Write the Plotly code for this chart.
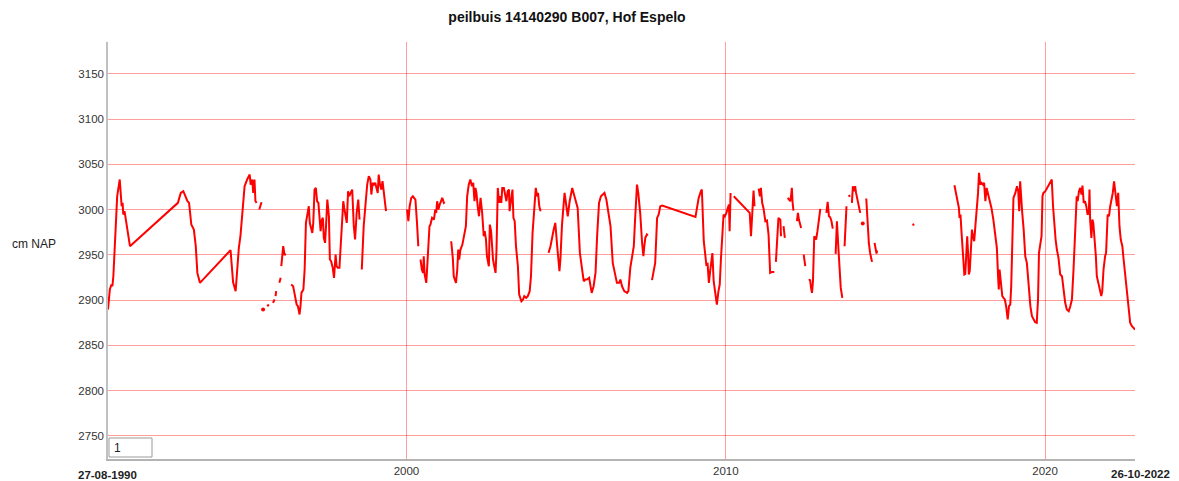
import plotly.graph_objects as go
import pandas as pd

# Decimal years (None = gap in the series) and groundwater level in cm NAP
jaar = [
    1990.65, 1990.71, 1990.76, 1990.79, 1990.82, 1990.89, 1990.94, 1991.02, 1991.08, 1991.11,
    1991.13, 1991.17, 1991.24, 1991.28, 1991.34, 1992.84, 1992.93, 1993.01, 1993.08, 1993.14,
    1993.19, 1993.22, 1993.26, 1993.34, 1993.40, 1993.45, 1993.53, 1994.49, 1994.54, 1994.57,
    1994.65, 1994.70, 1994.75, 1994.80, 1994.86, 1994.93, 1995.01, 1995.09, 1995.12, 1995.17,
    1995.20, 1995.24, 1995.27, 1995.31, None,
    1995.39, 1995.46, None,
    1995.64, 1995.69, None,
    1995.82, 1995.87, None,
    1995.90, 1995.92, None,
    1996.02, 1996.06, None,
    1996.08, 1996.14, 1996.18, 1996.23, None,
    1996.39, 1996.45, 1996.49, 1996.56, 1996.60, 1996.65, 1996.68, 1996.71, 1996.77, 1996.81,
    1996.85, 1996.89, 1996.94, 1996.97, 1997.02, 1997.05, 1997.08, 1997.12, 1997.16, 1997.20,
    1997.24, 1997.28, 1997.31, 1997.35, 1997.38, 1997.41, 1997.45, 1997.49, 1997.52, 1997.57,
    1997.60, 1997.64, 1997.69, 1997.73, 1997.76, 1997.78, 1997.81, 1997.85, 1997.90, 1997.96,
    1997.99, 1998.02, 1998.05, 1998.09, 1998.13, 1998.17, 1998.21, 1998.25, 1998.30, 1998.35,
    1998.39, 1998.44, 1998.49, 1998.53, None,
    1998.60, 1998.66, 1998.73, 1998.77, 1998.82, 1998.87, 1998.90, 1998.94, 1998.98, 1999.02,
    1999.10, 1999.13, 1999.17, 1999.21, 1999.25, 1999.29, 1999.36, None,
    2000.02, 2000.06, 2000.10, 2000.15, 2000.20, 2000.28, 2000.33, 2000.37, None,
    2000.44, 2000.48, 2000.52, 2000.54, 2000.57, 2000.62, 2000.65, 2000.68, 2000.72, 2000.75,
    2000.80, 2000.86, 2000.90, 2000.93, 2000.96, 2001.00, 2001.04, 2001.12, 2001.17, 2001.20, None,
    2001.40, 2001.45, 2001.48, 2001.55, 2001.59, 2001.62, 2001.65, 2001.69, 2001.75, 2001.80,
    2001.86, 2001.90, 2001.95, 2002.00, 2002.05, 2002.09, 2002.13, 2002.16, 2002.19, 2002.23,
    2002.27, 2002.32, 2002.37, 2002.42, 2002.45, 2002.49, 2002.52, 2002.58, 2002.61, 2002.65,
    2002.68, 2002.71, 2002.75, 2002.79, 2002.82, 2002.86, 2002.90, 2002.94, 2002.97, 2003.00,
    2003.05, 2003.09, 2003.13, 2003.17, 2003.21, 2003.23, 2003.28, 2003.32, 2003.35, 2003.39,
    2003.43, 2003.46, 2003.49, 2003.53, 2003.57, 2003.60, 2003.65, 2003.69, 2003.75, 2003.80,
    2003.86, 2003.90, 2003.95, 2004.01, 2004.05, 2004.09, 2004.12, 2004.16, 2004.20, None,
    2004.45, 2004.51, 2004.61, 2004.66, 2004.72, 2004.79, 2004.82, 2004.87, 2004.95, 2005.00,
    2005.05, 2005.11, 2005.19, 2005.26, 2005.32, 2005.36, 2005.43, 2005.50, 2005.55, 2005.60,
    2005.65, 2005.72, 2005.80, 2005.86, 2005.92, 2005.97, 2006.03, 2006.09, 2006.16, 2006.20,
    2006.26, 2006.31, 2006.39, 2006.46, 2006.53, 2006.59, 2006.66, 2006.70, 2006.75, 2006.82,
    2006.91, 2006.95, 2007.01, 2007.06, 2007.12, 2007.16, 2007.22, 2007.26, 2007.32, 2007.38,
    2007.42, 2007.45, 2007.48, 2007.53, 2007.56, None,
    2007.69, 2007.74, 2007.79, 2007.85, 2007.90, 2007.95, 2008.01, 2009.05, 2009.15, 2009.22,
    2009.25, 2009.31, 2009.35, 2009.39, 2009.43, 2009.47, 2009.51, 2009.56, 2009.58, 2009.62,
    2009.67, 2009.72, 2009.77, 2009.81, 2009.85, 2009.89, 2009.93, 2009.97, 2010.02, 2010.06,
    2010.10, 2010.12, 2010.15, None,
    2010.25, 2010.75, 2010.79, 2010.83, 2010.87, 2010.90, None,
    2011.03, 2011.07, 2011.10, 2011.14, 2011.18, 2011.24, 2011.29, 2011.34, 2011.39, 2011.45,
    2011.52, None,
    2011.57, 2011.62, 2011.65, 2011.71, 2011.73, None,
    2011.81, 2011.85, None,
    2011.94, 2011.98, 2012.02, 2012.05, 2012.07, 2012.09, 2012.12, None,
    2012.23, 2012.26, 2012.29, 2012.33, 2012.36, None,
    2012.44, 2012.49, None,
    2012.60, 2012.64, 2012.67, 2012.70, 2012.73, 2012.75, 2012.77, 2012.80, 2012.83, 2012.87,
    2012.92, 2012.96, None,
    2013.15, 2013.19, 2013.23, 2013.27, 2013.31, 2013.35, None,
    2013.44, 2013.48, 2013.52, 2013.56, 2013.60, 2013.65, None,
    2013.72, 2013.75, 2013.78, None,
    2013.84, 2013.90, None,
    2013.95, 2013.98, 2014.02, 2014.05, 2014.08, 2014.13, 2014.17, 2014.21, None,
    2014.40, 2014.44, 2014.48, 2014.52, 2014.58, None,
    2014.66, 2014.69, 2014.72, 2014.74, None,
    2015.86, 2015.89, None,
    2017.16, 2017.21, 2017.26, 2017.30, 2017.32, 2017.35, 2017.38, 2017.42, 2017.47, 2017.50,
    2017.53, 2017.56, 2017.59, 2017.61, 2017.64, 2017.67, 2017.71, 2017.74, 2017.78, 2017.82,
    2017.86, 2017.90, 2017.93, 2017.97, 2018.01, 2018.05, 2018.09, 2018.13, 2018.17, 2018.22,
    2018.26, 2018.32, 2018.38, 2018.44, 2018.49, 2018.53, 2018.55, 2018.575, 2018.63, 2018.66,
    2018.70, 2018.74, 2018.78, 2018.83, 2018.87, 2018.91, 2018.94, 2018.97, 2019.01, 2019.07,
    2019.12, 2019.16, 2019.19, 2019.22, 2019.25, 2019.285, 2019.33, 2019.38, 2019.43, 2019.48,
    2019.54, 2019.59, 2019.64, 2019.69, 2019.74, 2019.78, 2019.81, 2019.85, 2019.89, 2019.92,
    2019.95, 2020.01, 2020.06, 2020.11, 2020.16, 2020.21, 2020.25, 2020.29, 2020.33, 2020.37,
    2020.42, 2020.475, 2020.53, 2020.58, 2020.63, 2020.68, 2020.74, 2020.79, 2020.84, 2020.89,
    2020.94, 2020.99, 2021.02, 2021.06, 2021.10, 2021.14, 2021.17, 2021.21, 2021.25, 2021.29,
    2021.33, 2021.37, 2021.39, 2021.41, 2021.45, 2021.48, 2021.51, 2021.54, 2021.59, 2021.62,
    2021.67, 2021.73, 2021.76, 2021.79, 2021.83, 2021.88, 2021.91, 2021.96, 2022.00, 2022.04,
    2022.08, 2022.12, 2022.16, 2022.21, 2022.25, 2022.29, 2022.33, 2022.37, 2022.42, 2022.46,
    2022.51, 2022.56, 2022.61, 2022.665, 2022.72, 2022.77, 2022.82,
]

stand = [
    2889.5, 2911.6, 2917.1, 2915.3, 2926.3, 2970.5, 3014.8, 3033.2, 3003.7, 3007.4,
    2994.5, 2998.2, 2981.6, 2970.5, 2959.5, 3007.4, 3018.4, 3020.3, 3012.9, 3009.2,
    3007.4, 2992.6, 2983.4, 2977.9, 2959.5, 2930.0, 2919.0, 2955.1, 2937.4, 2919.7,
    2909.8, 2941.1, 2957.7, 2970.5, 3000.0, 3025.8, 3033.2, 3038.7, 3027.6, 3033.2,
    3018.4, 3033.2, 3009.2, 3007.4, None,
    3000.0, 3008.1, None,
    2893.2, 2895.0, None,
    2896.9, 2900.6, None,
    2904.3, 2909.8, None,
    2919.0, 2924.5, None,
    2937.4, 2959.5, 2950.3, 2950.3, None,
    2917.1, 2915.3, 2907.9, 2895.0, 2893.2, 2884.0, 2893.2, 2907.9, 2911.6, 2933.7,
    2985.3, 2994.5, 3003.7, 2985.3, 2977.9, 2974.2, 2985.3, 3022.1, 3023.9, 3009.2,
    3007.4, 2992.6, 2976.1, 2989.0, 2990.8, 2968.7, 2963.2, 2989.0, 3011.1, 2992.6,
    2944.8, 2942.9, 2935.6, 2924.5, 2937.4, 2950.3, 2937.4, 2935.6, 2935.6, 2974.2,
    2996.3, 3009.2, 3001.8, 2990.8, 2985.3, 3020.3, 3014.7, 3018.4, 3022.1, 2981.6,
    2966.9, 2996.3, 3011.1, 2989.0, None,
    2933.7, 2981.6, 3011.1, 3027.6, 3036.9, 3033.2, 3016.6, 3029.5, 3027.6, 3029.5,
    3018.4, 3038.7, 3027.6, 3022.1, 3031.3, 3018.4, 2998.2, None,
    3000.0, 2987.1, 3003.7, 3012.9, 3014.7, 3011.1, 2985.3, 2959.5, None,
    2944.8, 2933.7, 2930.0, 2948.4, 2928.2, 2919.0, 2937.4, 2955.8, 2981.6, 2983.4,
    2990.8, 2989.0, 3000.0, 2996.3, 3009.2, 3000.0, 3005.5, 3012.9, 3007.4, 3008.1, None,
    2965.0, 2946.6, 2926.3, 2919.0, 2933.7, 2955.8, 2944.8, 2955.8, 2961.3, 2970.5,
    2981.6, 3014.7, 3027.6, 3033.2, 3025.8, 3029.5, 3009.2, 3023.9, 3018.4, 3003.7,
    2992.6, 3012.9, 2996.3, 2970.5, 2976.1, 2966.9, 2948.4, 2937.4, 2983.4, 2976.1,
    2959.5, 2944.8, 2937.4, 2930.0, 2955.8, 3023.9, 3007.4, 3014.7, 3007.4, 3023.9,
    3023.9, 3014.7, 3009.2, 3020.3, 3022.1, 2998.2, 3011.1, 3022.1, 2990.8, 2987.1,
    2959.5, 2950.3, 2937.4, 2906.1, 2902.4, 2898.7, 2900.6, 2904.3, 2902.4, 2904.3,
    2909.8, 2926.3, 2974.2, 3011.1, 3023.9, 3014.7, 3018.4, 3003.7, 2998.2, None,
    2952.1, 2959.5, 2977.9, 2985.3, 2959.5, 2931.9, 2944.8, 2983.4, 3018.4, 3007.4,
    2992.6, 3009.2, 3023.9, 3014.7, 3007.4, 3001.8, 2952.1, 2930.0, 2920.8, 2922.7,
    2922.7, 2924.5, 2907.9, 2915.3, 2930.0, 2970.5, 3007.4, 3014.7, 3016.6, 3018.4,
    3011.1, 3000.0, 2981.6, 2941.1, 2930.0, 2919.0, 2919.0, 2922.7, 2915.3, 2909.8,
    2907.9, 2909.8, 2935.6, 2948.4, 2959.5, 2989.0, 3027.6, 3018.4, 2996.3, 2963.2,
    2948.4, 2959.5, 2968.7, 2972.4, 2971.3, None,
    2922.0, 2930.0, 2941.1, 2990.8, 2994.5, 3003.7, 3004.4, 2991.9, 3012.9, 3020.3,
    3022.1, 2965.0, 2953.9, 2939.2, 2940.0, 2919.0, 2931.9, 2950.3, 2951.8, 2920.8,
    2904.2, 2895.0, 2909.8, 2917.1, 2946.6, 2976.1, 2994.5, 2992.6, 2996.3, 3001.8,
    3005.5, 2976.1, 3018.4, None,
    3014.7, 2996.3, 2970.5, 2994.5, 3021.0, 3003.7, None,
    3023.2, 3014.7, 3024.0, 3007.4, 3001.8, 2987.1, 2987.9, 2972.4, 2930.0, 2931.1,
    2931.1, None,
    2942.2, 2979.7, 2990.8, 2988.9, 2970.5, None,
    2981.6, 2968.7, None,
    3012.9, 3011.0, 3009.2, 3016.6, 3024.0, 3009.2, 2998.9, None,
    2987.1, 2996.3, 2988.9, 2983.4, 2979.7, None,
    2950.3, 2937.4, None,
    2921.5, 2922.7, 2913.4, 2907.9, 2920.8, 2948.4, 2970.5, 2968.7, 2966.9, 2976.1,
    2990.8, 3000.7, None,
    2996.3, 3008.5, 2992.6, 2991.5, 2987.1, 2979.0, None,
    2951.0, 2987.1, 2961.3, 2931.9, 2913.4, 2902.4, None,
    2959.5, 2983.4, 3003.7, None,
    3014.7, 3015.5, None,
    3007.4, 3025.8, 3020.3, 3025.8, 3018.4, 3009.2, 3001.8, 2996.3, None,
    3012.2, 2977.9, 2963.2, 2952.1, 2942.2, None,
    2963.2, 2955.8, 2951.4, 2954.7, None,
    2984.5, 2982.2, None,
    3026.9, 3018.4, 3007.4, 3001.8, 2990.8, 2994.5, 2976.1, 2950.3, 2928.2, 2928.9,
    2954.0, 2970.5, 2950.3, 2928.2, 2931.9, 2950.3, 2977.9, 2970.5, 2965.0, 2983.4,
    2998.2, 3018.4, 3040.5, 3027.6, 3029.5, 3027.6, 3029.5, 3009.2, 3023.9, 3016.6,
    3012.9, 3001.8, 2988.9, 2974.2, 2957.6, 2924.5, 2911.6, 2933.7, 2908.0, 2904.3,
    2902.4, 2900.6, 2893.2, 2878.5, 2893.2, 2895.0, 2915.3, 2948.4, 3012.9, 3018.4,
    3025.8, 3020.3, 2998.2, 3031.3, 3011.1, 2996.3, 2977.9, 2948.4, 2941.1, 2915.3,
    2893.2, 2882.1, 2878.5, 2875.5, 2874.8, 2900.6, 2952.1, 2959.5, 2970.5, 3014.7,
    3018.4, 3020.3, 3023.9, 3027.6, 3031.3, 3033.2, 3003.7, 2983.4, 2966.9, 2955.8,
    2946.6, 2928.2, 2926.3, 2911.6, 2896.9, 2889.5, 2887.7, 2893.2, 2900.6, 2933.7,
    2966.9, 3014.7, 3009.2, 3020.3, 3023.9, 3016.6, 3026.5, 3007.4, 3009.2, 3003.7,
    2994.5, 2996.3, 3022.1, 2989.0, 2968.7, 2989.0, 2985.3, 2974.2, 2948.4, 2926.3,
    2919.0, 2908.0, 2904.3, 2909.8, 2933.7, 2948.4, 2952.1, 2994.5, 2992.6, 3003.7,
    3011.1, 3018.4, 3031.3, 3018.4, 3003.7, 3018.4, 2981.6, 2966.9, 2959.5, 2944.8,
    2926.3, 2908.0, 2889.5, 2874.8, 2871.1, 2869.3, 2867.4,
]

# isolated single measurements
losse_jaar = [1995.51, 2014.29]
losse_stand = [2889.5, 2984.5]

y_ticks = [2750, 2800, 2850, 2900, 2950, 3000, 3050, 3100, 3150]
x_tick_dates = ["2000-01-01", "2010-01-01", "2020-01-01"]
x_tick_labels = ["2000", "2010", "2020"]
start_label, end_label = "27-08-1990", "26-10-2022"
x_start, x_end = "1990-08-27", "2022-10-26"


def to_date(y):
    if y is None:
        return None
    yr = int(y)
    start = pd.Timestamp(yr, 1, 1)
    ndays = 366 if pd.Timestamp(yr, 12, 31).dayofyear == 366 else 365
    return start + pd.Timedelta(days=(y - yr) * ndays)


x_vals = [to_date(v) for v in jaar]
x_dots = [to_date(v) for v in losse_jaar]

fig = go.Figure()
fig.add_trace(go.Scatter(x=x_vals, y=stand, mode="lines",
                         line=dict(color="#ff0000", width=2), connectgaps=False,
                         hoverinfo="skip", showlegend=False))
fig.add_trace(go.Scatter(x=x_dots, y=losse_stand, mode="markers",
                         marker=dict(color="#ff0000", size=4), showlegend=False))

# page has an 8px body margin: figure is 1171x473 so that it lands on the 1179x481 view
W, H, OFF = 1171, 473, 8
PL, PT, PW, PH = 108 - OFF, 42 - OFF, 1027, 417


def px_x(px):  # page pixel -> paper x
    return (px - OFF - PL) / PW


def px_y(py):  # page pixel -> paper y
    return (PT + PH - (py - OFF)) / PH


grid_col = "rgba(255,0,0,0.38)"
fig.update_layout(
    width=W, height=H,
    margin=dict(l=PL, r=W - PL - PW, t=PT, b=H - PT - PH),
    paper_bgcolor="white", plot_bgcolor="white",
    font=dict(family="Liberation Sans, Arial, sans-serif", size=12, color="#333"),
    title=dict(text="<b>peilbuis 14140290 B007, Hof Espelo</b>", x=(567 - OFF) / W, xanchor="center",
               y=1 - (17 - OFF) / H, yanchor="middle", xref="container", yref="container",
               font=dict(size=14, color="#111", family="Liberation Sans, Arial, sans-serif")),
    xaxis=dict(type="date", range=[x_start, x_end], tickvals=x_tick_dates, ticktext=x_tick_labels,
               showgrid=True, gridcolor=grid_col, gridwidth=1, zeroline=False,
               showline=True, linecolor="#b4b4b4", linewidth=2, ticks="",
               tickfont=dict(size=11.5, color="#333"), automargin=False),
    yaxis=dict(range=[2724.3, 3185.2], tickvals=y_ticks, showgrid=True, gridcolor=grid_col,
               gridwidth=1, zeroline=False, showline=True, linecolor="#c0c0c0", linewidth=1.5,
               ticks="", tickfont=dict(size=11.5, color="#333"), automargin=False),
    annotations=[
        dict(text="cm NAP", x=px_x(10), y=px_y(244), xref="paper", yref="paper",
             showarrow=False, xanchor="left", yanchor="middle",
             font=dict(size=12, color="#222")),
        dict(text="<b>" + start_label + "</b>", x=px_x(107.5), y=px_y(475),
             xref="paper", yref="paper", showarrow=False, xanchor="center", yanchor="middle",
             font=dict(size=11.5, color="#222")),
        dict(text="<b>" + end_label + "</b>", x=px_x(1172), y=px_y(474),
             xref="paper", yref="paper", showarrow=False, xanchor="right", yanchor="middle",
             font=dict(size=11.5, color="#222")),
        dict(text="1", x=px_x(112), y=px_y(448), xref="paper", yref="paper",
             showarrow=False, xanchor="left", yanchor="middle", font=dict(size=12, color="#222")),
    ],
    shapes=[
        dict(type="rect", xref="paper", yref="paper",
             x0=px_x(109), x1=px_x(152), y0=px_y(457), y1=px_y(438),
             line=dict(color="#9a9a9a", width=1), fillcolor="white", layer="above"),
    ],
)

fig.write_html("out.html")
